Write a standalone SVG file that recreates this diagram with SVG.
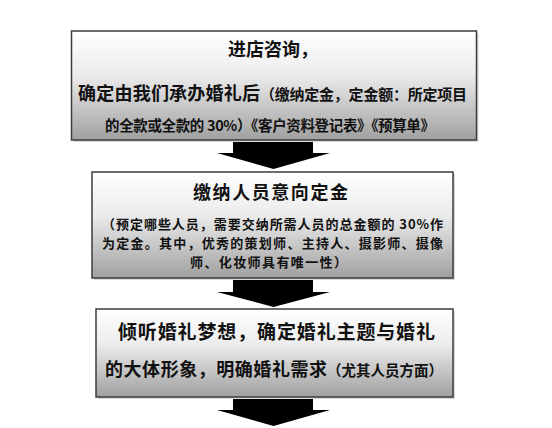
<svg xmlns="http://www.w3.org/2000/svg" width="552" height="428" viewBox="0 0 552 428">
<defs>
<linearGradient id="g" x1="0" y1="0" x2="0" y2="1">
<stop offset="0" stop-color="#ffffff"/>
<stop offset="0.4" stop-color="#ececec"/>
<stop offset="1" stop-color="#a0a0a0"/>
</linearGradient>
<style>
.box{fill:url(#g);stroke:#3c3c3c;stroke-width:1.5}
.sh{fill:#d8d8d8}
.arr{fill:#000000}
text{font-family:"Noto Sans CJK SC","Noto Sans CJK JP",sans-serif;font-weight:bold;fill:#111111}
.b{font-size:18px}
.s{font-size:13px}
</style>
</defs>
<rect width="552" height="428" fill="#ffffff"/>
<g id="connectors">
<polygon class="arr" points="233,140 313,140 313,153 330,153 273.5,169 217,153 233,153"/>
<polygon class="arr" points="233,278 313,278 313,292 330,292 273.5,307 217,292 233,292"/>
<polygon class="arr" points="233,397 313,397 313,410 330,410 273.5,426 217,410 233,410"/>
</g>
<g id="node1">
<rect class="sh" x="73.5" y="33" width="405" height="109"/>
<rect class="box" x="71.5" y="31" width="405" height="109"/>
<text class="b" x="228" y="56" textLength="90">进店咨询，</text>
<text class="b" x="78" y="100" textLength="182">确定由我们承办婚礼后</text>
<text style="font-size:15px" x="260" y="100" textLength="207">（缴纳定金，定金额：所定项目</text>
<text style="font-size:14.5px" x="105" y="131" textLength="330">的全款或全款的 30%）《客户资料登记表》《预算单》</text>
</g>
<g id="node2">
<rect class="sh" x="94" y="174" width="361" height="106"/>
<rect class="box" x="92" y="172" width="361" height="106"/>
<text class="b" x="193" y="199" textLength="155">缴纳人员意向定金</text>
<text class="s" x="102" y="229" textLength="341">（预定哪些人员，需要交纳所需人员的总金额的 30%作</text>
<text class="s" x="102" y="248" textLength="341">为定金。其中，优秀的策划师、主持人、摄影师、摄像</text>
<text class="s" x="190" y="267" textLength="157">师、化妆师具有唯一性）</text>
</g>
<g id="node3">
<rect class="sh" x="98" y="311" width="357" height="88"/>
<rect class="box" x="96" y="309" width="357" height="88"/>
<text style="font-size:19px" x="118" y="339" textLength="317">倾听婚礼梦想，确定婚礼主题与婚礼</text>
<text class="b" x="105" y="376" textLength="222">的大体形象，明确婚礼需求</text>
<text style="font-size:14.5px" x="327" y="376" textLength="116">（尤其人员方面）</text>
</g>
</svg>
